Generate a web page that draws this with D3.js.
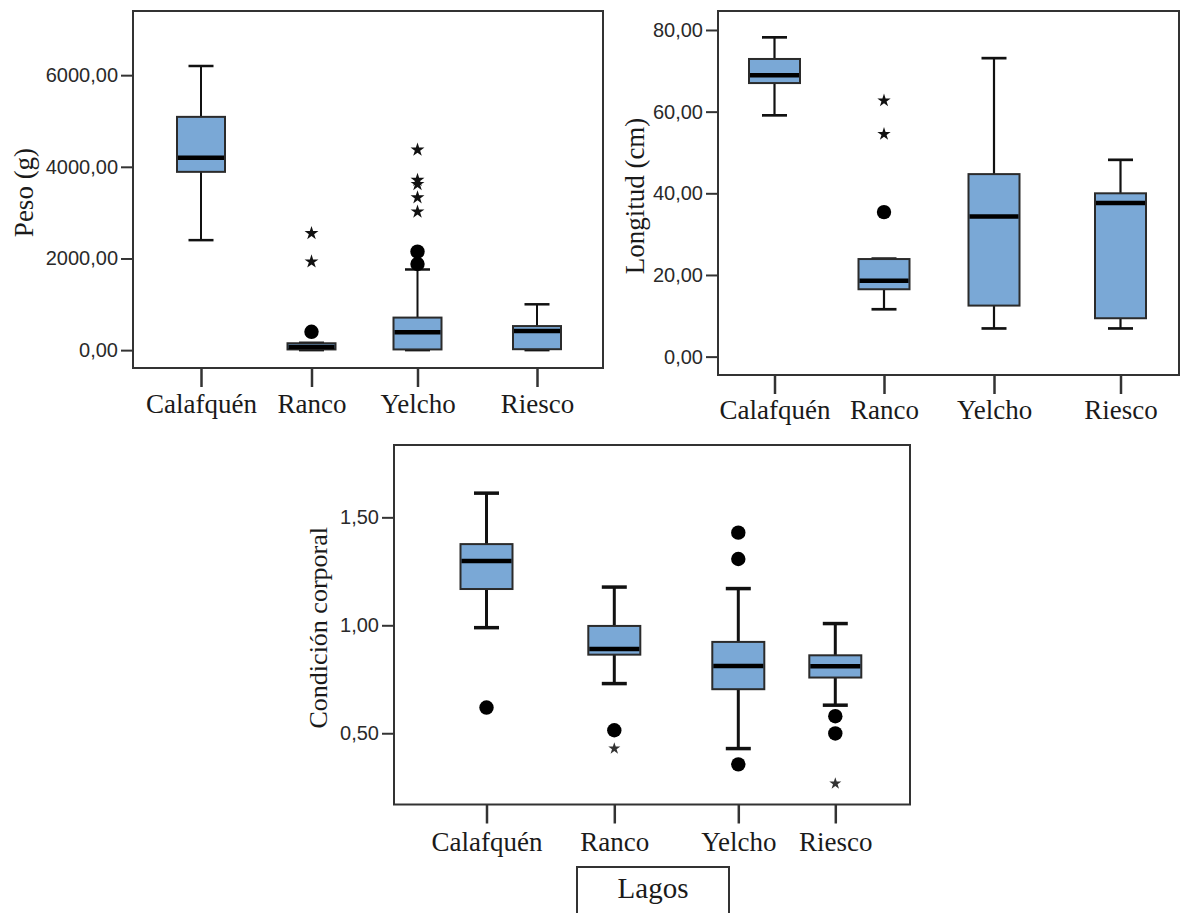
<!DOCTYPE html>
<html>
<head>
<meta charset="utf-8">
<script src="https://cdn.jsdelivr.net/npm/d3@7"></script>
<style>
  html, body { margin: 0; padding: 0; background: #fff; }
  svg { display: block; }
</style>
</head>
<body>
<svg id="chart" width="1181" height="913"></svg>
<script>
// Lakes sampled
const lakes = ["Calafquén", "Ranco", "Yelcho", "Riesco"];

// Peso (g): whisker ends, quartiles, median, outliers (●) and extremes (★)
const pesoLow    = [2400,   0,    0,    0];
const pesoQ1     = [3890,  15,   15,   20];
const pesoMedian = [4200,  70,  390,  420];
const pesoQ3     = [5090, 150,  710,  525];
const pesoHigh   = [6200, 160, 1760, 1000];
const pesoOutliers = [[], [400], [1880, 2150], []];
const pesoExtremes = [[], [1930, 2550], [3020, 3330, 3620, 3710, 4370], []];
const pesoTicks = [0, 2000, 4000, 6000];

// Longitud (cm)
const longLow    = [59.1, 11.6,  6.9,  6.9];
const longQ1     = [67.0, 16.5, 12.5,  9.4];
const longMedian = [68.9, 18.6, 34.3, 37.6];
const longQ3     = [72.9, 23.9, 44.7, 40.0];
const longHigh   = [78.2, 24.0, 73.1, 48.2];
const longOutliers = [[], [35.4], [], []];
const longExtremes = [[], [54.5, 62.7], [], []];
const longTicks = [0, 20, 40, 60, 80];

// Condición corporal
const condLow    = [0.989, 0.730, 0.429, 0.630];
const condQ1     = [1.168, 0.864, 0.704, 0.758];
const condMedian = [1.298, 0.890, 0.812, 0.810];
const condQ3     = [1.376, 0.997, 0.923, 0.861];
const condHigh   = [1.612, 1.177, 1.170, 1.008];
const condOutliers = [[0.619], [0.514], [0.356, 1.307, 1.429], [0.499, 0.579]];
const condExtremes = [[], [0.429], [], [0.267]];
const condTicks = [0.5, 1.0, 1.5];

const axisTitle = "Lagos";

// Panel layout
const panels = [
  {
    title: "Peso (g)", titleFont: 27, titleX: 33,
    low: pesoLow, q1: pesoQ1, median: pesoMedian, q3: pesoQ3, high: pesoHigh,
    outliers: pesoOutliers, extremes: pesoExtremes, ticks: pesoTicks,
    left: 133, right: 603, top: 11, bottom: 368,
    domain: [-390, 7400],
    catX: [201, 311.5, 417.5, 537],
    boxW: 48, capW: 25, whiskerW: 2, catTick: 19, labelBase: 413,
    starSize: 60, starFill: "#111"
  },
  {
    title: "Longitud (cm)", titleFont: 27, titleX: 644,
    low: longLow, q1: longQ1, median: longMedian, q3: longQ3, high: longHigh,
    outliers: longOutliers, extremes: longExtremes, ticks: longTicks,
    left: 718, right: 1179, top: 11, bottom: 375,
    domain: [-4.5, 84.65],
    catX: [774.5, 884, 994, 1120.5],
    boxW: 51, capW: 25, whiskerW: 2.2, catTick: 19, labelBase: 418.5,
    starSize: 55, starFill: "#111"
  },
  {
    title: "Condición corporal", titleFont: 26, titleX: 327,
    low: condLow, q1: condQ1, median: condMedian, q3: condQ3, high: condHigh,
    outliers: condOutliers, extremes: condExtremes, ticks: condTicks,
    left: 394, right: 910, top: 445, bottom: 804.5,
    domain: [0.17, 1.835],
    catX: [486.5, 614.3, 738.3, 835.3],
    boxW: 52, capW: 25, whiskerW: 3, catTick: 19, labelBase: 851,
    starSize: 45, starFill: "#333"
  }
];

const boxFill = "#7aa8d6";
const inkDark = "#111";
const frameInk = "#333";
const fmt = v => d3.format(".2f")(v).replace(".", ",");

const svg = d3.select("#chart");

panels.forEach(p => {
  const y = d3.scaleLinear().domain(p.domain).range([p.bottom, p.top]);
  const x = d3.scaleOrdinal().domain(lakes).range(p.catX);
  const g = svg.append("g");

  // Frame
  g.append("rect")
    .attr("x", p.left).attr("y", p.top)
    .attr("width", p.right - p.left).attr("height", p.bottom - p.top)
    .attr("fill", "none").attr("stroke", frameInk).attr("stroke-width", 2);

  // Value axis
  const yAxis = g.append("g")
    .attr("transform", `translate(${p.left},0)`)
    .call(d3.axisLeft(y).tickValues(p.ticks).tickSize(12).tickPadding(3).tickFormat(fmt));
  yAxis.select(".domain").remove();
  yAxis.selectAll(".tick line").attr("stroke", frameInk).attr("stroke-width", 2);
  yAxis.selectAll(".tick text")
    .attr("fill", "#2a2a2a")
    .style("font-family", "'Liberation Sans', Arial, sans-serif")
    .style("font-size", "20px");

  // Category axis
  const xAxis = g.append("g")
    .attr("transform", `translate(0,${p.bottom})`)
    .call(d3.axisBottom(x).tickSize(p.catTick));
  xAxis.select(".domain").remove();
  xAxis.selectAll(".tick line").attr("stroke", frameInk).attr("stroke-width", 2.5);
  xAxis.selectAll(".tick text")
    .attr("y", p.labelBase - p.bottom).attr("dy", 0)
    .attr("fill", "#1a1a1a")
    .style("font-family", "'Liberation Serif', 'Times New Roman', serif")
    .style("font-size", "27px");

  // Axis title
  g.append("text")
    .attr("transform", `translate(${p.titleX},${(p.top + p.bottom) / 2 + 3}) rotate(-90)`)
    .attr("text-anchor", "middle")
    .attr("fill", "#1a1a1a")
    .style("font-family", "'Liberation Serif', 'Times New Roman', serif")
    .style("font-size", p.titleFont + "px")
    .text(p.title);

  // Boxes
  lakes.forEach((lake, i) => {
    const cx = x(lake);
    const bg = g.append("g");
    // whiskers
    bg.append("line")
      .attr("x1", cx).attr("x2", cx)
      .attr("y1", y(p.q3[i])).attr("y2", y(p.high[i]))
      .attr("stroke", inkDark).attr("stroke-width", p.whiskerW);
    bg.append("line")
      .attr("x1", cx).attr("x2", cx)
      .attr("y1", y(p.q1[i])).attr("y2", y(p.low[i]))
      .attr("stroke", inkDark).attr("stroke-width", p.whiskerW);
    [p.high[i], p.low[i]].forEach(v => {
      bg.append("line")
        .attr("x1", cx - p.capW / 2).attr("x2", cx + p.capW / 2)
        .attr("y1", y(v)).attr("y2", y(v))
        .attr("stroke", inkDark).attr("stroke-width", p.whiskerW + 0.5);
    });
    // box
    bg.append("rect")
      .attr("x", cx - p.boxW / 2).attr("width", p.boxW)
      .attr("y", y(p.q3[i])).attr("height", y(p.q1[i]) - y(p.q3[i]))
      .attr("fill", boxFill).attr("stroke", "#2b2b2b").attr("stroke-width", 2);
    // median
    bg.append("line")
      .attr("x1", cx - p.boxW / 2 + 1).attr("x2", cx + p.boxW / 2 - 1)
      .attr("y1", y(p.median[i])).attr("y2", y(p.median[i]))
      .attr("stroke", "#000").attr("stroke-width", 4.5);
    // outliers
    p.outliers[i].forEach(v => {
      bg.append("circle")
        .attr("cx", cx).attr("cy", y(v)).attr("r", 7.2)
        .attr("fill", "#000");
    });
    // extremes
    p.extremes[i].forEach(v => {
      bg.append("path")
        .attr("d", d3.symbol(d3.symbolStar, p.starSize)())
        .attr("transform", `translate(${cx},${y(v)})`)
        .attr("fill", p.starFill);
    });
  });
});

// Shared category title box
const titleBox = svg.append("g");
titleBox.append("rect")
  .attr("x", 577).attr("y", 867).attr("width", 152).attr("height", 60)
  .attr("fill", "#fff").attr("stroke", frameInk).attr("stroke-width", 2);
titleBox.append("text")
  .attr("x", 653).attr("y", 898)
  .attr("text-anchor", "middle")
  .attr("fill", "#1a1a1a")
  .style("font-family", "'Liberation Serif', 'Times New Roman', serif")
  .style("font-size", "29px")
  .text(axisTitle);
</script>
</body>
</html>
